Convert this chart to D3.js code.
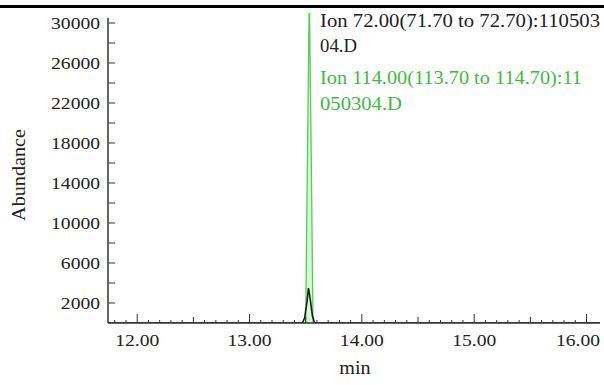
<!DOCTYPE html>
<html>
<head>
<meta charset="utf-8">
<script src="https://cdn.jsdelivr.net/npm/d3@7"></script>
<style>
  body { margin: 0; background: #fff; }
  text { font-family: "Liberation Serif", "Times New Roman", serif; }
</style>
</head>
<body>
<div id="chart"></div>
<script>
// Ion 72.00 trace (black)
const ion72Time = [11.74, 13.40, 13.47, 13.49, 13.51, 13.525, 13.54, 13.56, 13.58, 13.65, 16.12];
const ion72Abund = [0, 0, 0, 500, 2000, 3500, 2400, 700, 0, 0, 0];
// Ion 114.00 trace (green)
const ion114Time = [11.74, 13.45, 13.50, 13.515, 13.532, 13.55, 13.565, 13.60, 16.12];
const ion114Abund = [0, 0, 0, 16000, 33000, 16000, 0, 0, 0];

const legendLines = [
  { text: 'Ion 72.00(71.70 to 72.70):110503', color: '#222', len: 280 },
  { text: '04.D', color: '#222', len: 37 },
  { text: 'Ion 114.00(113.70 to 114.70):11', color: '#3dbb3d', len: 262 },
  { text: '050304.D', color: '#3dbb3d', len: 82 }
];

const yLabelValues = [2000, 6000, 10000, 14000, 18000, 22000, 26000, 30000];
const xLabelValues = [12, 13, 14, 15, 16];

const W = 604, H = 385;
const margin = { top: 13, right: 4, bottom: 62, left: 108 };
const width = W - margin.left - margin.right,
  height = H - margin.top - margin.bottom;
const stretch = 1.12; // text in the source is a bit wide

const svg = d3.select('#chart').append('svg')
  .attr('width', W).attr('height', H);

// top rule
svg.append('line')
  .attr('x1', 0).attr('x2', W).attr('y1', 6.5).attr('y2', 6.5)
  .attr('stroke', '#000').attr('stroke-width', 3);

const g = svg.append('g').attr('transform', `translate(${margin.left},${margin.top})`);

const x = d3.scaleLinear().domain([11.74, 16.12]).range([0, width]);
const y = d3.scaleLinear().domain([0, 31000]).range([height, 0]);

svg.append('defs').append('clipPath').attr('id', 'plotclip')
  .append('rect').attr('x', 0).attr('y', 0).attr('width', width).attr('height', height);

const line = d3.line().x((d) => x(d[0])).y((d) => y(d[1]));

const traces = g.append('g').attr('clip-path', 'url(#plotclip)');

traces.append('path')
  .datum(d3.zip(ion114Time, ion114Abund))
  .attr('d', line)
  .attr('fill', '#d8f5d8')
  .attr('stroke', '#4fd14f')
  .attr('stroke-width', 1.3);

traces.append('path')
  .datum(d3.zip(ion72Time, ion72Abund))
  .attr('d', line)
  .attr('fill', 'none')
  .attr('stroke', '#1a1a1a')
  .attr('stroke-width', 1.6);

// Y axis
const yAxis = g.append('g');
yAxis.append('line')
  .attr('x1', 0).attr('x2', 0).attr('y1', y(30500)).attr('y2', height)
  .attr('stroke', '#666').attr('stroke-width', 2);
yAxis.selectAll('.ytick')
  .data(d3.range(2000, 30001, 2000))
  .join('line')
  .attr('x1', 0).attr('x2', 7)
  .attr('y1', (d) => y(d)).attr('y2', (d) => y(d))
  .attr('stroke', '#555').attr('stroke-width', 1.2);
yAxis.selectAll('.ylab')
  .data(yLabelValues)
  .join('text')
  .attr('transform', (d) => `translate(-8,${y(d)}) scale(${stretch},1)`)
  .attr('dy', '0.35em')
  .attr('text-anchor', 'end')
  .attr('font-size', 17.5)
  .attr('fill', '#222')
  .text((d) => d);

// X axis
const xAxis = g.append('g').attr('transform', `translate(0,${height})`);
xAxis.append('line')
  .attr('x1', 0).attr('x2', width).attr('y1', 0).attr('y2', 0)
  .attr('stroke', '#333').attr('stroke-width', 1.5);
const minor = d3.range(118, 161).map((d) => d / 10);
xAxis.selectAll('.xtick')
  .data(minor)
  .join('line')
  .attr('x1', (d) => x(d)).attr('x2', (d) => x(d))
  .attr('y1', 0)
  .attr('y2', (d) => {
    const t = Math.round(d * 10) % 10;
    return t === 0 ? -9 : t === 5 ? -6 : -3;
  })
  .attr('stroke', '#333').attr('stroke-width', 1);
const lastX = xLabelValues[xLabelValues.length - 1];
xAxis.selectAll('.xlab')
  .data(xLabelValues)
  .join('text')
  // the last label is pushed back inside the right edge
  .attr('transform', (d) => `translate(${d === lastX ? width : x(d)},23) scale(${stretch},1)`)
  .attr('text-anchor', (d) => (d === lastX ? 'end' : 'middle'))
  .attr('font-size', 17.5)
  .attr('fill', '#222')
  .text((d) => d.toFixed(2));

// axis titles
svg.append('text')
  .attr('transform', `translate(25,${margin.top + height / 2 + 7}) rotate(-90) scale(${stretch},1)`)
  .attr('text-anchor', 'middle')
  .attr('font-size', 18)
  .attr('fill', '#222')
  .text('Abundance');
svg.append('text')
  .attr('transform', `translate(355,374) scale(${stretch},1)`)
  .attr('text-anchor', 'middle')
  .attr('font-size', 18)
  .attr('fill', '#222')
  .text('min');

// legend
const legendY = [21, 46, 78, 104];
svg.selectAll('.leg')
  .data(legendLines)
  .join('text')
  .attr('x', 320)
  .attr('y', (d, i) => legendY[i])
  .attr('dy', '0.35em')
  .attr('font-size', 18)
  .attr('textLength', (d) => d.len)
  .attr('lengthAdjust', 'spacingAndGlyphs')
  .attr('fill', (d) => d.color)
  .text((d) => d.text);
</script>
</body>
</html>
